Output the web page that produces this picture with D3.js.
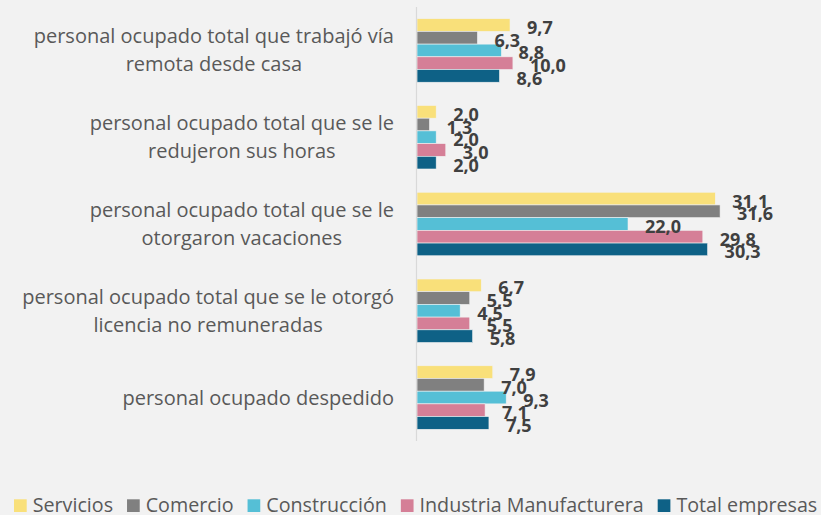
<!DOCTYPE html>
<html>
<head>
<meta charset="utf-8">
<script src="https://cdn.jsdelivr.net/npm/d3@7"></script>
<style>
  html, body { margin: 0; padding: 0; background: #f2f2f2; }
  svg { display: block; }
</style>
</head>
<body>
<svg id="chart" width="821" height="515"></svg>
<script>
const categories = [
  ["personal ocupado total que trabajó vía", "remota desde casa"],
  ["personal ocupado total que se le", "redujeron sus horas"],
  ["personal ocupado total que se le", "otorgaron vacaciones"],
  ["personal ocupado total que se le otorgó", "licencia no remuneradas"],
  ["personal ocupado despedido"]
];
const seriesNames = ["Servicios", "Comercio", "Construcción", "Industria Manufacturera", "Total empresas"];
const servicios    = [9.7, 2.0, 31.1, 6.7, 7.9];
const comercio     = [6.3, 1.3, 31.6, 5.5, 7.0];
const construccion = [8.8, 2.0, 22.0, 4.5, 9.3];
const industria    = [10.0, 3.0, 29.8, 5.5, 7.1];
const total        = [8.6, 2.0, 30.3, 5.8, 7.5];
const seriesValues = [servicios, comercio, construccion, industria, total];
const colors = ["#f9e07a", "#808080", "#55bfd6", "#d57f97", "#0e6186"];

const svg = d3.select("#chart");
svg.append("rect").attr("width", 821).attr("height", 515).attr("fill", "#f2f2f2");

const catIdx = d3.range(categories.length);
const y = d3.scaleBand().domain(catIdx).range([7, 441]).paddingInner(0.268).paddingOuter(0.135);
const ySub = d3.scaleBand().domain(d3.range(seriesNames.length)).range([0, y.bandwidth()]);
const x = d3.scaleLinear().domain([0, 35]).range([417, 752.7]);

// bars
seriesValues.forEach((vals, s) => {
  svg.append("g").selectAll("rect").data(vals).join("rect")
    .attr("x", x(0))
    .attr("y", (d, i) => y(i) + ySub(s))
    .attr("width", d => x(d) - x(0))
    .attr("height", ySub.bandwidth())
    .attr("fill", colors[s])
    .attr("stroke", "#f2f2f2")
    .attr("stroke-width", 0.6);
});

// axis line
svg.append("line")
  .attr("x1", 416.5).attr("x2", 416.5)
  .attr("y1", y.range()[0]).attr("y2", y.range()[1])
  .attr("stroke", "#d9d9d9").attr("stroke-width", 1.2);

// value labels
seriesValues.forEach((vals, s) => {
  svg.append("g").selectAll("text").data(vals).join("text")
    .attr("x", d => x(d) + 17)
    .attr("y", (d, i) => y(i) + ySub(s) + ySub.bandwidth() / 2 + 2)
    .attr("dominant-baseline", "central")
    .attr("font-family", "'Open Sans', sans-serif")
    .attr("font-weight", "bold")
    .attr("font-size", 18)
    .attr("fill", "#404040")
    .text(d => d.toFixed(1).replace(".", ","));
});

// category labels
const lineH = 28;
categories.forEach((lines, i) => {
  const cy = y(i) + y.bandwidth() / 2;
  const g = svg.append("g");
  const texts = g.selectAll("text").data(lines).join("text")
    .attr("font-family", "'Open Sans', sans-serif")
    .attr("font-size", 20)
    .attr("fill", "#595959")
    .attr("text-anchor", "middle")
    .attr("y", (d, k) => cy + 7 + (k - (lines.length - 1) / 2) * lineH)
    .text(d => d);
  let maxW = 0;
  texts.each(function() { maxW = Math.max(maxW, this.getComputedTextLength()); });
  texts.attr("x", 394 - maxW / 2);
});

// legend
const leg = svg.append("g");
let lx = 14;
seriesNames.forEach((name, s) => {
  leg.append("rect").attr("x", lx).attr("y", 499.3).attr("width", 12.7).attr("height", 12.7).attr("fill", colors[s]);
  const t = leg.append("text")
    .attr("x", lx + 18.7).attr("y", 512)
    .attr("font-family", "'Open Sans', sans-serif")
    .attr("font-size", 19.7)
    .attr("fill", "#595959")
    .text(name);
  lx += 18.7 + t.node().getComputedTextLength() + 14;
});
</script>
</body>
</html>
